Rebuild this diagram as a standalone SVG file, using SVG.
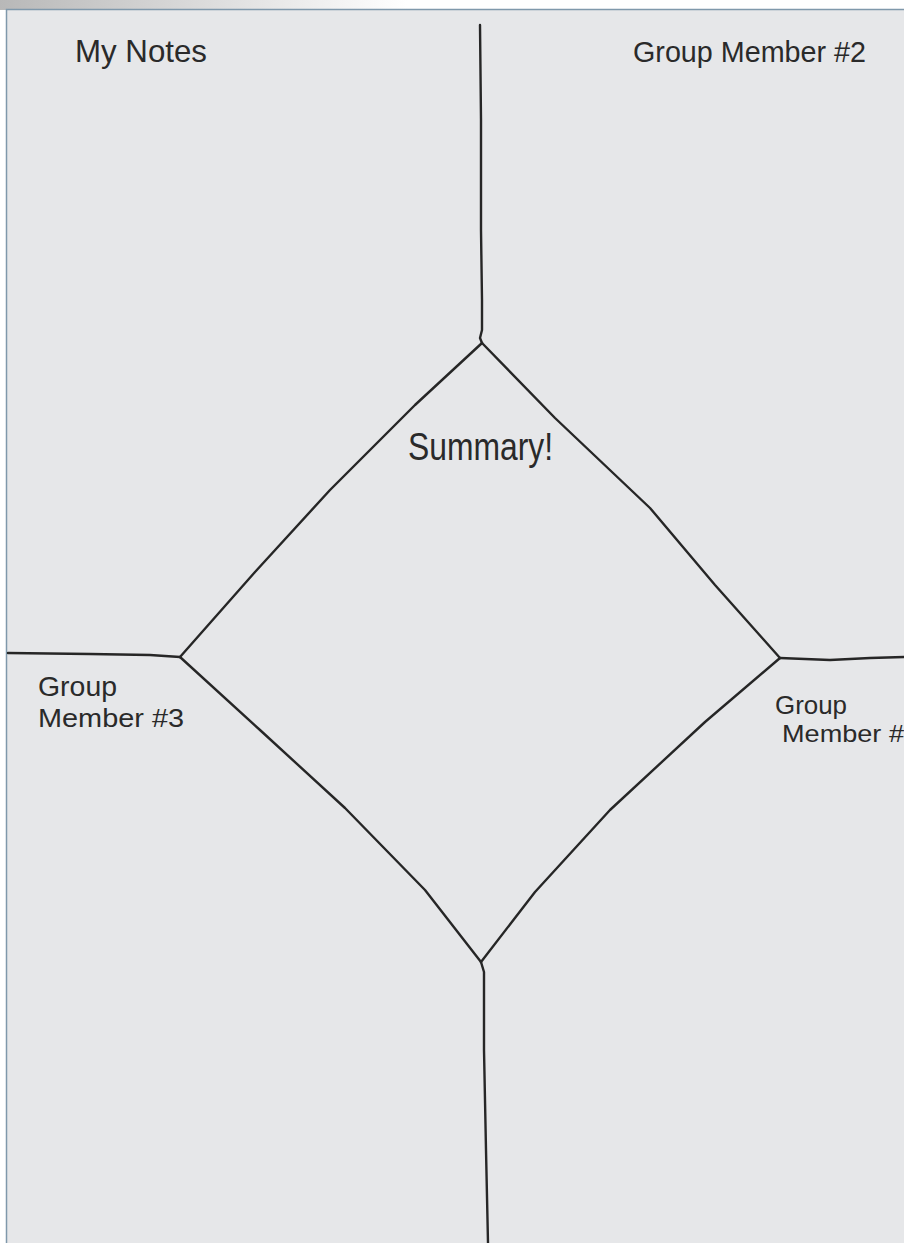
<svg xmlns="http://www.w3.org/2000/svg" width="904" height="1243" viewBox="0 0 904 1243">
<defs>
<linearGradient id="topfade" x1="0" y1="0" x2="1" y2="0">
<stop offset="0" stop-color="#b8b8b8"/>
<stop offset="0.45" stop-color="#ffffff"/>
<stop offset="1" stop-color="#ffffff"/>
</linearGradient>
<style>
.ink{fill:none;stroke:#262626;stroke-width:2.4;stroke-linecap:round;stroke-linejoin:round}
.hand{font-family:"Liberation Sans","DejaVu Sans",sans-serif;fill:#2a2a2a;font-weight:normal}
</style>
</defs>
<rect x="0" y="0" width="904" height="1243" fill="#ffffff"/>
<rect x="0" y="0" width="904" height="10" fill="url(#topfade)"/>
<rect x="6.5" y="9.5" width="905" height="1240" fill="#e6e7e9" stroke="#7f98ab" stroke-width="1.5"/>
<g id="connectors">
<path class="ink" d="M480,25 L481,120 L481,230 L482,300 L482,330 L480,338 L482,343"/>
<path class="ink" d="M482,343 L415,405 L330,490 L255,572 L180,657"/>
<path class="ink" d="M482,343 L555,418 L650,508 L715,585 L780,658"/>
<path class="ink" d="M180,657 L260,730 L345,808 L425,890 L481,962"/>
<path class="ink" d="M780,658 L705,722 L610,810 L535,892 L481,962"/>
<path class="ink" d="M8,653 L90,654 L150,655 L180,657"/>
<path class="ink" d="M780,658 L830,660 L870,658 L904,657"/>
<path class="ink" d="M481,962 L484,972 L484,1050 L486,1150 L488,1243"/>
</g>
<g id="my-notes">
<text class="hand" x="75" y="62" font-size="32" textLength="132" lengthAdjust="spacingAndGlyphs">My Notes</text>
</g>
<g id="group-member-2">
<text class="hand" x="633" y="62" font-size="30" textLength="233" lengthAdjust="spacingAndGlyphs">Group Member #2</text>
</g>
<g id="summary">
<text class="hand" x="408" y="460" font-size="38" textLength="145" lengthAdjust="spacingAndGlyphs">Summary!</text>
</g>
<g id="group-member-3">
<text class="hand" x="38" y="696" font-size="28" textLength="79" lengthAdjust="spacingAndGlyphs">Group</text>
<text class="hand" x="38" y="727" font-size="26" textLength="146" lengthAdjust="spacingAndGlyphs">Member #3</text>
</g>
<g id="group-member-4">
<text class="hand" x="775" y="714" font-size="26" textLength="72" lengthAdjust="spacingAndGlyphs">Group</text>
<text class="hand" x="782" y="742" font-size="24" textLength="122" lengthAdjust="spacingAndGlyphs">Member #</text>
</g>
</svg>
